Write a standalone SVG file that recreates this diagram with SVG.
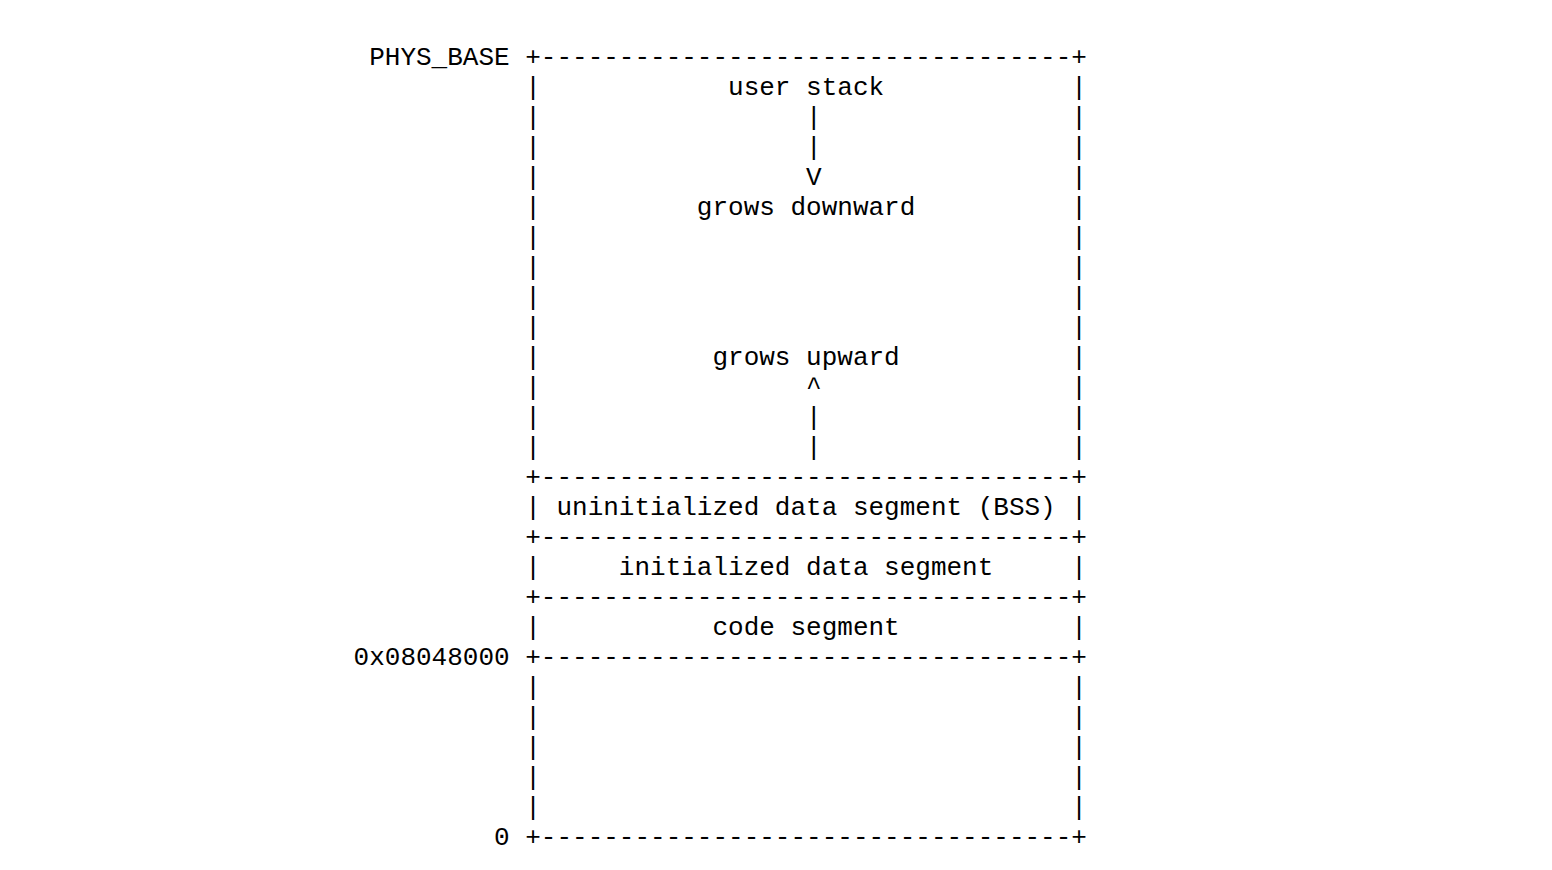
<svg xmlns="http://www.w3.org/2000/svg" width="1552" height="870" viewBox="0 0 1552 870">
<style>
text{font-family:"Liberation Mono","Courier New",monospace;font-size:26px;fill:#000;white-space:pre}
</style>
<rect width="1552" height="870" fill="#fff"/>
<g id="memory-map" xml:space="preserve">
<g id="user-stack">
<text x="353.6" y="65"> PHYS_BASE +----------------------------------+</text>
<text x="353.6" y="95">           |            user stack            |</text>
<text x="353.6" y="125">           |                 |                |</text>
<text x="353.6" y="155">           |                 |                |</text>
<text x="353.6" y="185">           |                 V                |</text>
<text x="353.6" y="215">           |          grows downward          |</text>
<text x="353.6" y="245">           |                                  |</text>
<text x="353.6" y="275">           |                                  |</text>
<text x="353.6" y="305">           |                                  |</text>
<text x="353.6" y="335">           |                                  |</text>
<text x="353.6" y="365">           |           grows upward           |</text>
<text x="353.6" y="395">           |                 ^                |</text>
<text x="353.6" y="425">           |                 |                |</text>
<text x="353.6" y="455">           |                 |                |</text>
</g>
<g id="bss">
<text x="353.6" y="485">           +----------------------------------+</text>
<text x="353.6" y="515">           | uninitialized data segment (BSS) |</text>
</g>
<g id="data">
<text x="353.6" y="545">           +----------------------------------+</text>
<text x="353.6" y="575">           |     initialized data segment     |</text>
</g>
<g id="code">
<text x="353.6" y="605">           +----------------------------------+</text>
<text x="353.6" y="635">           |           code segment           |</text>
</g>
<g id="unmapped">
<text x="353.6" y="665">0x08048000 +----------------------------------+</text>
<text x="353.6" y="695">           |                                  |</text>
<text x="353.6" y="725">           |                                  |</text>
<text x="353.6" y="755">           |                                  |</text>
<text x="353.6" y="785">           |                                  |</text>
<text x="353.6" y="815">           |                                  |</text>
<text x="353.6" y="845">         0 +----------------------------------+</text>
</g>
</g>
<g id="connectors"/>
</svg>
